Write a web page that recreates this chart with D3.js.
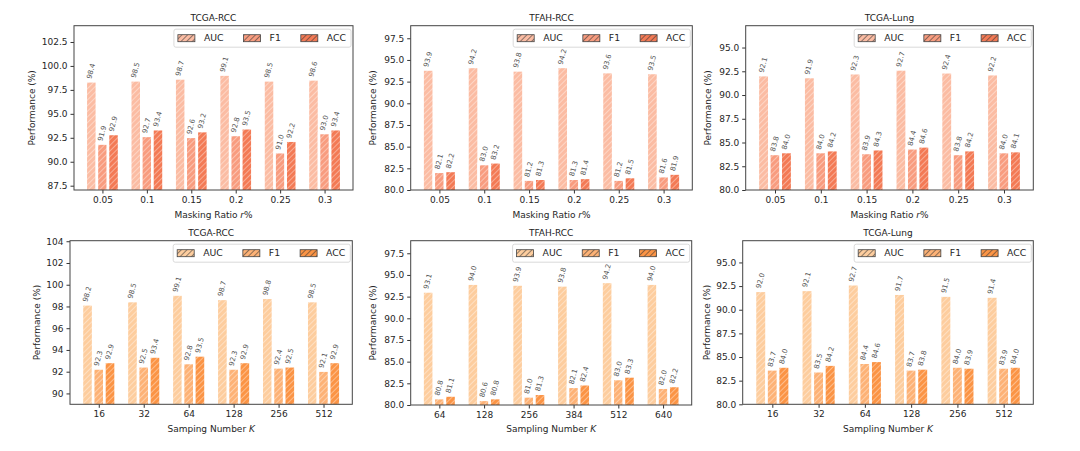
<!DOCTYPE html>
<html><head><meta charset="utf-8">
<script src="https://cdn.jsdelivr.net/npm/d3@7"></script>
<style>body{margin:0;background:#fff;} text{font-family:"DejaVu Sans",sans-serif;}</style>
</head><body><svg id="c" width="1080" height="451"></svg>
<script>
// ---------- DATA ----------
const metrics = ["AUC", "F1", "ACC"];
const maskRatios = ["0.05", "0.1", "0.15", "0.2", "0.25", "0.3"];
const samplingRCC = ["16", "32", "64", "128", "256", "512"];
const samplingTFAH = ["64", "128", "256", "384", "512", "640"];
const samplingLung = ["16", "32", "64", "128", "256", "512"];

const maskRccAUC = [98.4, 98.5, 98.7, 99.1, 98.5, 98.6];
const maskRccF1  = [91.9, 92.7, 92.6, 92.8, 91.0, 93.0];
const maskRccACC = [92.9, 93.4, 93.2, 93.5, 92.2, 93.4];

const maskTfahAUC = [93.9, 94.2, 93.8, 94.2, 93.6, 93.5];
const maskTfahF1  = [82.1, 83.0, 81.2, 81.3, 81.2, 81.6];
const maskTfahACC = [82.2, 83.2, 81.3, 81.4, 81.5, 81.9];

const maskLungAUC = [92.1, 91.9, 92.3, 92.7, 92.4, 92.2];
const maskLungF1  = [83.8, 84.0, 83.9, 84.4, 83.8, 84.0];
const maskLungACC = [84.0, 84.2, 84.3, 84.6, 84.2, 84.1];

const sampRccAUC = [98.2, 98.5, 99.1, 98.7, 98.8, 98.5];
const sampRccF1  = [92.3, 92.5, 92.8, 92.3, 92.4, 92.1];
const sampRccACC = [92.9, 93.4, 93.5, 92.9, 92.5, 92.9];

const sampTfahAUC = [93.1, 94.0, 93.9, 93.8, 94.2, 94.0];
const sampTfahF1  = [80.8, 80.6, 81.0, 82.1, 83.0, 82.0];
const sampTfahACC = [81.1, 80.8, 81.3, 82.4, 83.3, 82.2];

const sampLungAUC = [92.0, 92.1, 92.7, 91.7, 91.5, 91.4];
const sampLungF1  = [83.7, 83.5, 84.4, 83.7, 84.0, 83.9];
const sampLungACC = [84.0, 84.2, 84.6, 83.8, 83.9, 84.0];

const ticksRcc1 = [87.5, 90.0, 92.5, 95.0, 97.5, 100.0, 102.5];
const ticksTfah = [80.0, 82.5, 85.0, 87.5, 90.0, 92.5, 95.0, 97.5];
const ticksLung = [80.0, 82.5, 85.0, 87.5, 90.0, 92.5, 95.0];
const ticksRcc2 = [90, 92, 94, 96, 98, 100, 102, 104];

// ---------- LAYOUT / STYLE ----------
const topColors = ["#fbbca3", "#f89c7f", "#f37a55"];
const botColors = ["#fdcd9e", "#fdb276", "#fb9445"];

const panels = [
  {title:"TCGA-RCC", cats:maskRatios, vals:[maskRccAUC,maskRccF1,maskRccACC], ticks:ticksRcc1, fmt:".1f", dom:[87.05,104.2],
   box:[74,353,25.7,190], colors:topColors, xlab:"Masking Ratio ", xvar:"r", xsuf:"%", ylabX:32, titleY:18, xtickY:201, xlabY:215},
  {title:"TFAH-RCC", cats:maskRatios, vals:[maskTfahAUC,maskTfahF1,maskTfahACC], ticks:ticksTfah, fmt:".1f", dom:[80,98.95],
   box:[410.7,692.3,25.7,190], colors:topColors, xlab:"Masking Ratio ", xvar:"r", xsuf:"%", ylabX:373, titleY:18, xtickY:201, xlabY:215},
  {title:"TCGA-Lung", cats:maskRatios, vals:[maskLungAUC,maskLungF1,maskLungACC], ticks:ticksLung, fmt:".1f", dom:[80,97.3],
   box:[745.7,1033.3,25.7,190], colors:topColors, xlab:"Masking Ratio ", xvar:"r", xsuf:"%", ylabX:708, titleY:18, xtickY:201, xlabY:215},
  {title:"TCGA-RCC", cats:samplingRCC, vals:[sampRccAUC,sampRccF1,sampRccACC], ticks:ticksRcc2, fmt:"d", dom:[89,104.05],
   box:[70,352.3,240.7,404.3], colors:botColors, xlab:"Samping Number ", xvar:"K", xsuf:"", ylabX:37, titleY:233.5, xtickY:415, xlabY:429},
  {title:"TFAH-RCC", cats:samplingTFAH, vals:[sampTfahAUC,sampTfahF1,sampTfahACC], ticks:ticksTfah, fmt:".1f", dom:[80,98.95],
   box:[410.7,691.7,240.7,405], colors:botColors, xlab:"Sampling Number ", xvar:"K", xsuf:"", ylabX:373, titleY:233.5, xtickY:415, xlabY:429},
  {title:"TCGA-Lung", cats:samplingLung, vals:[sampLungAUC,sampLungF1,sampLungACC], ticks:ticksLung, fmt:".1f", dom:[80,97.3],
   box:[742.7,1033.3,240.7,404.3], colors:botColors, xlab:"Sampling Number ", xvar:"K", xsuf:"", ylabX:707, titleY:233.5, xtickY:415, xlabY:429},
];

const svg = d3.select("#c");
const defs = svg.append("defs");

// hatch patterns
function makePattern(id, color, lineColor, lineOp){
  const p = defs.append("pattern").attr("id", id).attr("patternUnits","userSpaceOnUse")
    .attr("width", 4).attr("height", 4).attr("patternTransform","rotate(45)");
  p.append("rect").attr("width",4).attr("height",4).attr("fill",color);
  p.append("line").attr("x1",0).attr("y1",0).attr("x2",0).attr("y2",4)
    .attr("stroke",lineColor).attr("stroke-opacity",lineOp).attr("stroke-width",1.4);
}
topColors.forEach((c,i)=>{ makePattern("ht"+i, c, "#fff", 0.55); makePattern("lt"+i, c, "#333", 0.8); });
botColors.forEach((c,i)=>{ makePattern("hb"+i, c, "#fff", 0.55); makePattern("lb"+i, c, "#333", 0.8); });

const fs = 9;
panels.forEach((P, pi) => {
  const [L, R, T, B] = P.box;
  const g = svg.append("g");
  const pre = pi < 3 ? "t" : "b";
  const x = d3.scaleLinear().domain([-0.64, P.cats.length - 1 + 0.64]).range([L, R]);
  const y = d3.scaleLinear().domain(P.dom).range([B, T]);
  const off = 0.25, bw = 0.25;
  const clipId = "clip" + pi;
  defs.append("clipPath").attr("id", clipId).append("rect").attr("x", L).attr("y", T).attr("width", R-L).attr("height", B-T);

  const barsG = g.append("g").attr("clip-path", `url(#${clipId})`);
  const labG = g.append("g");
  metrics.forEach((m, mi) => {
    const data = P.vals[mi].map((v, i) => ({i, v}));
    barsG.selectAll(null).data(data).enter().append("rect")
      .attr("x", d => x(d.i + (mi-1)*off - bw/2))
      .attr("width", d => x(bw) - x(0))
      .attr("y", d => y(d.v))
      .attr("height", d => B - y(d.v) + 2)
      .attr("fill", `url(#h${pre}${mi})`)
      .attr("stroke", "#fff").attr("stroke-width", 2.6);
    labG.selectAll(null).data(data).enter().append("text")
      .attr("transform", d => `translate(${x(d.i + (mi-1)*off) - 2},${y(d.v) - 2.5}) rotate(-75)`)
      .attr("font-size", 7).attr("fill", "#555").attr("dominant-baseline","middle")
      .text(d => d3.format(".1f")(d.v));
  });

  // y axis
  const ya = d3.axisLeft(y).tickValues(P.ticks).tickFormat(d3.format(P.fmt)).tickSize(3.5).tickPadding(3);
  const yg = g.append("g").attr("transform", `translate(${L},0)`).call(ya);
  yg.select(".domain").remove();
  yg.selectAll("text").attr("font-size", fs).attr("fill", "#262626").style("font-family","DejaVu Sans");
  yg.selectAll("line").attr("stroke", "#333");
  // x axis
  const xa = d3.axisBottom(x).tickValues(d3.range(P.cats.length)).tickFormat(i => P.cats[i]).tickSize(3.5).tickPadding(3);
  const xg = g.append("g").attr("transform", `translate(0,${B})`).call(xa);
  xg.select(".domain").remove();
  xg.selectAll("text").attr("font-size", fs).attr("fill", "#262626").style("font-family","DejaVu Sans");
  xg.selectAll("line").attr("stroke", "#333");

  // frame
  g.append("rect").attr("x", L).attr("y", T).attr("width", R-L).attr("height", B-T)
    .attr("fill", "none").attr("stroke", "#444").attr("stroke-width", 1);

  // title
  g.append("text").attr("x", (L+R)/2).attr("y", P.titleY).attr("text-anchor","middle")
    .attr("dominant-baseline","middle").attr("font-size", fs).attr("fill","#222").text(P.title);
  // x label
  const xl = g.append("text").attr("x", (L+R)/2).attr("y", P.xlabY).attr("text-anchor","middle")
    .attr("dominant-baseline","middle").attr("font-size", fs).attr("fill","#262626");
  xl.append("tspan").text(P.xlab);
  xl.append("tspan").attr("font-style","italic").text(P.xvar);
  if (P.xsuf) xl.append("tspan").text(P.xsuf);
  // y label
  g.append("text").attr("transform", `translate(${P.ylabX},${(T+B)/2}) rotate(-90)`).attr("text-anchor","middle")
    .attr("dominant-baseline","middle").attr("font-size", fs).attr("fill","#262626").text("Performance (%)");

  // legend
  const lg = g.append("g");
  const box = lg.append("rect").attr("rx", 2).attr("fill","#fff").attr("fill-opacity",0.8)
    .attr("stroke","#d0d0d0").attr("stroke-width",0.8);
  let cx = 0;
  const items = [];
  metrics.forEach((m, mi) => {
    const it = lg.append("g");
    it.append("rect").attr("x", cx).attr("y", -3.5).attr("width", 17).attr("height", 7)
      .attr("fill", `url(#l${pre}${mi})`).attr("stroke", "#444").attr("stroke-width", 0.8);
    const t = it.append("text").attr("x", cx + 26).attr("y", 0).attr("dominant-baseline","middle")
      .attr("font-size", 9.3).attr("fill","#262626").text(m);
    cx += 26 + t.node().getComputedTextLength() + (mi < 2 ? 20 : 0);
  });
  const padL = 4, padR = 5, h = 18;
  const bx = R - 2 - (cx + padL + padR), by = T + 3.5;
  box.attr("x", -padL).attr("y", -h/2).attr("width", cx + padL + padR).attr("height", h);
  lg.attr("transform", `translate(${bx + padL},${by + h/2})`);
});
</script></body></html>
